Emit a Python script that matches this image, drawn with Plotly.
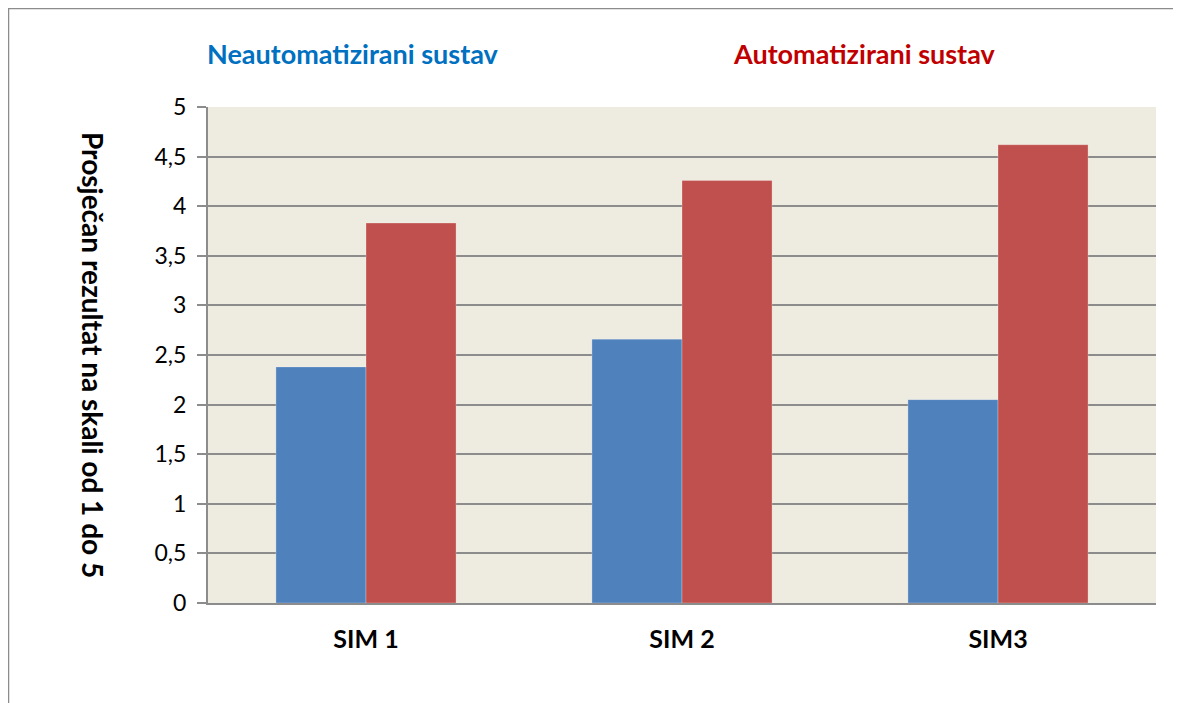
import plotly.graph_objects as go

categories = ["SIM 1", "SIM 2", "SIM3"]
neautomatizirani = [2.38, 2.66, 2.05]
automatizirani = [3.83, 4.26, 4.62]
series_names = ["Neautomatizirani sustav", "Automatizirani sustav"]
y_ticks = [0, 0.5, 1, 1.5, 2, 2.5, 3, 3.5, 4, 4.5, 5]
y_tick_labels = ["0", "0,5", "1", "1,5", "2", "2,5", "3", "3,5", "4", "4,5", "5"]
y_title = "Prosječan rezultat na skali od 1 do 5"

FONT = "Lato"
# page body margin of 8px -> offset
OFF = 8
L, T = 208 - OFF, 107 - OFF
PW, PH = 948, 496
W, H = 1181, 703

def px(x):
    return (x - OFF - L) / PW

def py(y):
    return (T + PH - (y - OFF)) / PH

fig = go.Figure()
fig.add_trace(go.Bar(x=categories, y=neautomatizirani, name=series_names[0],
                     marker=dict(color="#4F81BD", line=dict(color="rgba(255,255,255,0.25)", width=1))))
fig.add_trace(go.Bar(x=categories, y=automatizirani, name=series_names[1],
                     marker=dict(color="#C0504D", line=dict(color="rgba(255,255,255,0.25)", width=1))))

fig.update_layout(
    width=W, height=H,
    margin=dict(l=L, r=W - L - PW, t=T, b=H - T - PH),
    paper_bgcolor="white", plot_bgcolor="#EEEBE0",
    barmode="group", bargap=0.43, bargroupgap=0,
    showlegend=False,
    font=dict(family=FONT, color="black"),
    xaxis=dict(showgrid=False, showline=True, linecolor="#8C8C8C", linewidth=2,
               ticks="", tickfont=dict(family=FONT, size=25, color="black", weight="bold"),
               ticklabelstandoff=13),
    yaxis=dict(range=[0, 5], tickvals=y_ticks, ticktext=y_tick_labels,
               showgrid=True, gridcolor="#8C8C8C", gridwidth=1.5,
               showline=True, linecolor="#8C8C8C", linewidth=2,
               ticks="outside", ticklen=9, tickcolor="#8C8C8C", tickwidth=1.5,
               tickfont=dict(family=FONT, size=23, color="black"),
               zeroline=False, ticklabelstandoff=6),
    shapes=[dict(type="rect", xref="paper", yref="paper",
                 x0=px(8.5), x1=1.2, y0=-0.3, y1=py(8.5),
                 line=dict(color="#8C8C8C", width=1.5), fillcolor="rgba(0,0,0,0)", layer="below")],
    annotations=[
        dict(text=series_names[0], xref="paper", yref="paper", xanchor="center", yanchor="middle",
             x=px(353), y=py(54), showarrow=False,
             font=dict(family=FONT, size=27, color="#0070C0", weight="bold")),
        dict(text=series_names[1], xref="paper", yref="paper", xanchor="center", yanchor="middle",
             x=px(864), y=py(54), showarrow=False,
             font=dict(family=FONT, size=27, color="#C00000", weight="bold")),
        dict(text=y_title, xref="paper", yref="paper", xanchor="center", yanchor="middle",
             x=px(93), y=py(355), showarrow=False, textangle=90,
             font=dict(family=FONT, size=28, color="black", weight="bold")),
    ],
)

fig.write_html("out.html")
